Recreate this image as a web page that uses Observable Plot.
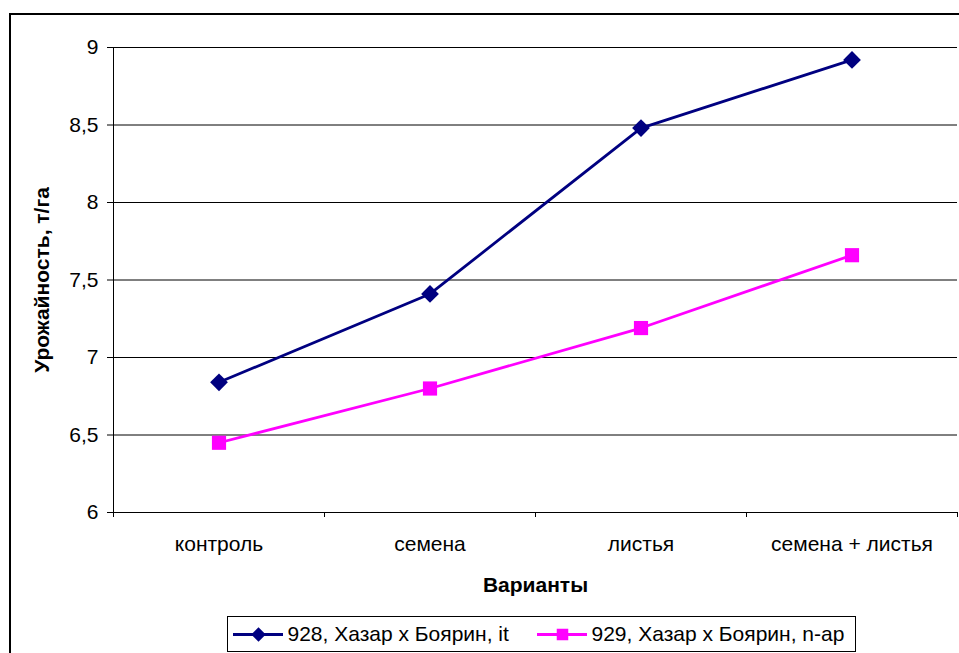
<!DOCTYPE html>
<html>
<head>
<meta charset="utf-8">
<script src="https://cdn.jsdelivr.net/npm/d3@7"></script>
<script src="https://cdn.jsdelivr.net/npm/@observablehq/plot@0.6"></script>
<style>
  html, body { margin: 0; padding: 0; background: #fff; overflow: hidden; }
  #wrap { position: relative; width: 959px; height: 653px; overflow: hidden; font-family: "Liberation Sans", Arial, sans-serif; }
  #frame { position: absolute; left: 9px; top: 13px; width: 1000px; height: 1000px; border: 2px solid #000; box-sizing: border-box; pointer-events: none; }
  #chart { position: absolute; left: 0; top: 0; }
  #legend { position: absolute; left: 227px; top: 616px; width: 629px; height: 36px; border: 1px solid #000; background: #fff; box-sizing: border-box; }
  #legend svg { display: block; }
</style>
</head>
<body>
<div id="wrap">
  <div id="chart"></div>
  <div id="frame"></div>
  <div id="legend"></div>
</div>
<script>
const categories = ["контроль", "семена", "листья", "семена + листья"];
const series928 = [6.84, 7.41, 8.48, 8.92];
const series929 = [6.45, 6.80, 7.19, 7.66];
const seriesNames = ["928, Хазар х Боярин, it", "929, Хазар х Боярин, n-ap"];
const seriesColors = ["#000080", "#FF00FF"];
const seriesSymbols = ["diamond2", "square"];
const yTicks = [6, 6.5, 7, 7.5, 8, 8.5, 9];

const rows = [];
[series928, series929].forEach((vals, s) => {
  vals.forEach((v, i) => rows.push({series: seriesNames[s], cat: i + 0.5, value: v}));
});
const fmt = v => String(v).replace(".", ",");
const font = "Liberation Sans, Arial, sans-serif";

const chart = Plot.plot({
  width: 959,
  height: 653,
  marginLeft: 113,
  marginRight: 2,
  marginTop: 47,
  marginBottom: 141,
  style: {fontFamily: font, fontSize: "21px", color: "#000", background: "transparent"},
  x: {domain: [0, categories.length]},
  y: {domain: [6, 9]},
  color: {domain: seriesNames, range: seriesColors},
  marks: [
    Plot.gridY(yTicks, {stroke: "#000", strokeOpacity: 1, strokeWidth: 1}),
    Plot.axisY(yTicks, {tickFormat: fmt, tickSize: 6, tickPadding: 9, stroke: "#000",
      label: "Урожайность, т/га", labelAnchor: "center", labelArrow: "none", labelOffset: 79,
      fontSize: 21}),
    Plot.axisX(d3.range(0, categories.length + 1), {tickSize: 5, tickFormat: () => "", label: null, stroke: "#000"}),
    Plot.axisX(categories.map((c, i) => i + 0.5), {tickSize: 0, tickPadding: 24,
      tickFormat: v => categories[Math.round(v - 0.5)], label: "Варианты", labelAnchor: "center",
      labelArrow: "none", labelOffset: 79, fontSize: 21}),
    Plot.ruleX([0], {stroke: "#000"}),
    Plot.ruleY([6], {stroke: "#000"}),
    Plot.line(rows, {x: "cat", y: "value", z: "series", stroke: "series", strokeWidth: 2.8}),
    Plot.dot(rows, {x: "cat", y: "value", fill: "series", stroke: null, r: 8,
      symbol: d => d.series === seriesNames[0] ? "diamond2" : "square"})
  ]
});
chart.querySelectorAll("[aria-label='y-axis label'] text, [aria-label='x-axis label'] text").forEach(t => t.setAttribute("font-weight", "bold"));
document.getElementById("chart").appendChild(chart);

// Legend built with Plot as well
const legendItems = seriesNames.map((n, i) => ({name: n, x0: i === 0 ? 5 : 309, color: seriesColors[i], symbol: seriesSymbols[i]}));
const legend = Plot.plot({
  width: 627,
  height: 34,
  margin: 0,
  x: {type: "identity"},
  y: {type: "identity"},
  style: {fontFamily: font, fontSize: "21px", background: "transparent"},
  marks: [
    Plot.ruleY(legendItems, {x1: d => d.x0, x2: d => d.x0 + 50, y: 17, stroke: d => d.color, strokeWidth: 2.8}),
    Plot.dot(legendItems, {x: d => d.x0 + 25, y: 17, fill: d => d.color, stroke: null, symbol: d => d.symbol, r: 6.5}),
    Plot.text(legendItems, {x: d => d.x0 + 54, y: 17, text: "name", textAnchor: "start", fill: "#000", fontSize: 21})
  ]
});
document.getElementById("legend").appendChild(legend);
</script>
</body>
</html>
